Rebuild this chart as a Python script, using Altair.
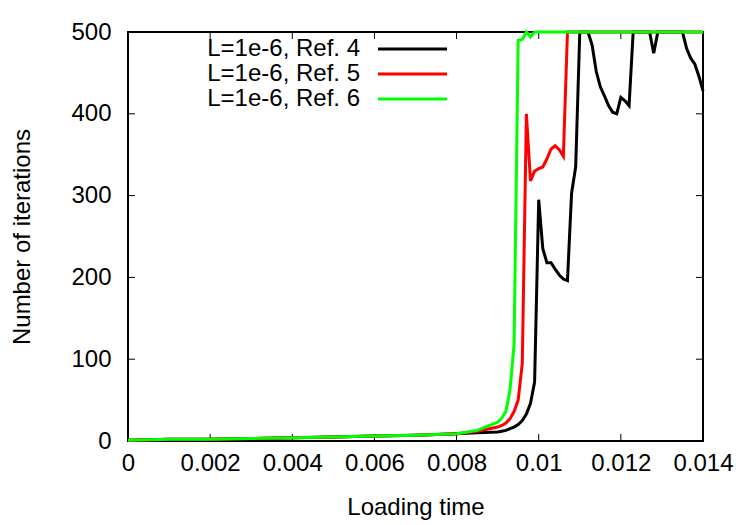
import altair as alt
import pandas as pd

# ---------------- data ----------------
x_time = [0.0, 0.001, 0.002, 0.003, 0.004, 0.005, 0.006, 0.007, 0.0075, 0.008, 0.0085,
          0.0090, 0.0091, 0.0092, 0.0093, 0.0094, 0.0095, 0.0096, 0.0097, 0.0098, 0.0099,
          0.0100, 0.0101, 0.0102, 0.0103, 0.0104, 0.0105, 0.0106, 0.0107, 0.0108, 0.0109,
          0.0110, 0.0111, 0.0112, 0.0113, 0.0114, 0.0115, 0.0116, 0.0117, 0.0118, 0.0119,
          0.0120, 0.0121, 0.0122, 0.0123, 0.0124, 0.0125, 0.0126, 0.0127, 0.0128, 0.0129,
          0.0130, 0.0131, 0.0132, 0.0133, 0.0134, 0.0135, 0.0136, 0.0137, 0.0138, 0.0139,
          0.0140]

iters_ref4 = [1, 2, 2, 3, 4, 5, 6, 7, 8, 9, 10,
              11, 12, 13, 15, 17, 20, 25, 33, 46, 72,
              295, 235, 218, 218, 210, 203, 198, 196, 303, 335,
              500, 500, 500, 484, 452, 433, 422, 410, 402, 400,
              420, 416, 410, 500, 500, 500, 500, 500, 474, 500,
              500, 500, 500, 500, 500, 500, 480, 468, 461, 446,
              428]

iters_ref5 = [1, 2, 2, 3, 4, 5, 6, 7, 8, 9, 12,
              17, 19, 22, 27, 36, 50, 95, 400, 318, 330,
              333, 335, 345, 357, 361, 356, 348, 500, 500, 500,
              500, 500, 500, 500, 500, 500, 500, 500, 500, 500,
              500, 500, 500, 500, 500, 500, 500, 500, 500, 500,
              500, 500, 500, 500, 500, 500, 500, 500, 500, 500,
              500]

iters_ref6 = [1, 2, 2, 3, 4, 5, 6, 7, 8, 9, 13,
              23, 28, 36, 62, 118, 490, 491, 500, 494, 500,
              500, 500, 500, 500, 500, 500, 500, 500, 500, 500,
              500, 500, 500, 500, 500, 500, 500, 500, 500, 500,
              500, 500, 500, 500, 500, 500, 500, 500, 500, 500,
              500, 500, 500, 500, 500, 500, 500, 500, 500, 500,
              500]

series_names = ["L=1e-6, Ref. 4", "L=1e-6, Ref. 5", "L=1e-6, Ref. 6"]
series_colors = ["#000000", "#ff0000", "#00ff00"]
series_values = [iters_ref4, iters_ref5, iters_ref6]

x_ticks = [0.0, 0.002, 0.004, 0.006, 0.008, 0.010, 0.012, 0.014]
y_ticks = [0, 100, 200, 300, 400, 500]

x_title = "Loading time"
y_title = "Number of iterations"

# ---------------- layout ----------------
W, H = 575, 409
FONT = "Liberation Sans"
FS = 24
TICK = 7

xscale = alt.Scale(domain=[0, 0.014], nice=False, zero=False)
yscale = alt.Scale(domain=[0, 500], nice=False)

xaxis = alt.Axis(values=x_ticks, format="~g", title=x_title, grid=False, domain=False,
                 ticks=False, labelPadding=10, labelFontSize=FS, labelFont=FONT,
                 labelColor="black", titleFontSize=FS, titleFont=FONT,
                 titleFontWeight="normal", titleColor="black", titlePadding=20,
                 labelFlush=False)
yaxis = alt.Axis(values=y_ticks, format="d", title=y_title, grid=False, domain=False,
                 ticks=False, labelPadding=17, labelFontSize=FS, labelFont=FONT,
                 labelColor="black", titleFontSize=FS, titleFont=FONT,
                 titleFontWeight="normal", titleColor="black", titlePadding=36,
                 labelFlush=False)

layers = []

# tick marks (inward, mirrored on all four sides)
xt = pd.DataFrame({"v": x_ticks})
yt = pd.DataFrame({"v": y_ticks})
layers.append(alt.Chart(xt).mark_rule(color="black", strokeWidth=1).encode(
    x=alt.X("v:Q", scale=xscale, axis=xaxis), y=alt.value(H), y2=alt.value(H - TICK)))
layers.append(alt.Chart(xt).mark_rule(color="black", strokeWidth=1).encode(
    x=alt.X("v:Q", scale=xscale), y=alt.value(0), y2=alt.value(TICK)))
layers.append(alt.Chart(yt).mark_rule(color="black", strokeWidth=1).encode(
    y=alt.Y("v:Q", scale=yscale, axis=yaxis), x=alt.value(0), x2=alt.value(TICK)))
layers.append(alt.Chart(yt).mark_rule(color="black", strokeWidth=1).encode(
    y=alt.Y("v:Q", scale=yscale), x=alt.value(W), x2=alt.value(W - TICK)))

# data lines
for name, color, vals in zip(series_names, series_colors, series_values):
    df = pd.DataFrame({"t": x_time, "n": vals, "s": name})
    layers.append(alt.Chart(df).mark_line(color=color, strokeWidth=3, clip=False).encode(
        x=alt.X("t:Q", scale=xscale),
        y=alt.Y("n:Q", scale=yscale),
    ))

# legend (inside the plot, gnuplot style)
for i, (name, color) in enumerate(zip(series_names, series_colors)):
    ld = pd.DataFrame({"label": [name]})
    ypix = 17 + 25 * i
    layers.append(alt.Chart(ld).mark_text(align="right", baseline="middle", font=FONT,
                                          fontSize=FS, color="black").encode(
        text="label:N", x=alt.value(232), y=alt.value(ypix)))
    layers.append(alt.Chart(ld).mark_rule(color=color, strokeWidth=3).encode(
        x=alt.value(250), x2=alt.value(319), y=alt.value(ypix)))

chart = alt.layer(*layers).properties(
    width=W, height=H,
    autosize=alt.AutoSizeParams(type="none"),
    padding={"left": 128, "top": 32, "right": 47, "bottom": 84},
    background="white",
).configure_view(stroke="black", strokeWidth=2)

chart.save("out.html", embed_options={"renderer": "svg", "actions": False})
